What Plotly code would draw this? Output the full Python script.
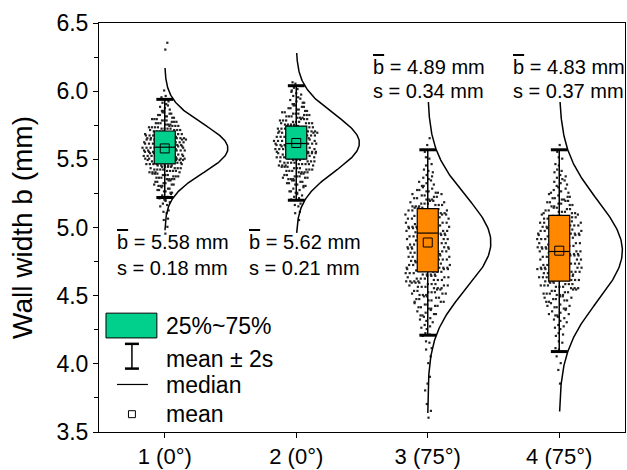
import numpy as np
import plotly.graph_objects as go

# ---------------- data ----------------
groups = [1, 2, 3, 4]
group_labels = ["1 (0°)", "2 (0°)", "3 (75°)", "4 (75°)"]
means = [5.58, 5.62, 4.89, 4.83]
sds = [0.18, 0.21, 0.34, 0.37]
q1 = [5.466, 5.502, 4.674, 4.606]
medians = [5.589, 5.616, 4.959, 4.824]
q3 = [5.708, 5.744, 5.138, 5.089]

# fitted-curve extents (as drawn)
curve_lo = [4.98, 4.96, 3.64, 3.65]
curve_hi = [6.17, 6.28, 5.92, 5.92]

# individual measurements, estimated as counts per 0.05 mm bin
bin_width = 0.05
g1_bin_start = 4.95
g1_counts = [1, 1, 2, 3, 5, 7, 9, 12, 16, 20, 24, 27, 28, 27, 25, 20, 15, 10, 6, 4, 2, 1,
             0, 0, 0, 0, 0, 1, 1]
g2_bin_start = 5.00
g2_counts = [0, 1, 2, 3, 5, 7, 10, 13, 16, 19, 21, 22, 23, 22, 20, 17, 14, 10, 7, 5, 3, 2]
g3_bin_start = 3.60
g3_counts = [1, 1, 1, 0, 1, 1, 1, 0, 1, 1, 2, 2, 3, 4, 5, 7, 9, 11, 13, 15, 16, 16, 16, 16,
             16, 16, 16, 16, 16, 16, 15, 13, 11, 8, 6, 4, 3, 2, 2, 1, 1, 1]
g4_bin_start = 3.85
g4_counts = [1, 0, 1, 1, 1, 2, 2, 3, 4, 5, 7, 8, 10, 12, 14, 15, 16, 16, 16, 16, 16, 16, 16,
             16, 14, 12, 10, 8, 6, 5, 4, 3, 2, 2, 1, 1]

bin_starts = [g1_bin_start, g2_bin_start, g3_bin_start, g4_bin_start]
bin_counts = [g1_counts, g2_counts, g3_counts, g4_counts]

GREEN = "rgb(0,208,140)"
ORANGE = "rgb(255,136,0)"
box_colors = [GREEN, GREEN, ORANGE, ORANGE]
FONT = "Arial, Liberation Sans, Arimo, sans-serif"
BOX_HALF = 0.08

fig = go.Figure()

# ---------------- scatter of measurements ----------------
for g, start, counts in zip(groups, bin_starts, bin_counts):
    cmax = max(counts)
    xs, ys = [], []
    for b, c in enumerate(counts):
        lo = start + b * bin_width
        w = 0.015 + 0.155 * (c / cmax)
        for k in range(c):
            ys.append(lo + 0.01 * (k % 5) + 0.005)
            frac = ((k + 1) * 0.6180339887 + b * 0.37) % 1.0
            xs.append(g + w * (2 * frac - 1))
    fig.add_trace(go.Scatter(x=xs, y=ys, mode="markers",
                             marker=dict(symbol="square", size=2.2, color="#222222"),
                             showlegend=False, hoverinfo="skip"))

# ---------------- whiskers: mean +/- 2s ----------------
fig.add_trace(go.Scatter(x=groups, y=means, mode="markers",
                         marker=dict(size=1, color="rgba(0,0,0,0)"),
                         error_y=dict(type="data", array=[2 * s for s in sds], symmetric=True,
                                      color="black", thickness=1.5, width=0),
                         showlegend=False, hoverinfo="skip"))
cap_y = [m + 2 * s for m, s in zip(means, sds)] + [m - 2 * s for m, s in zip(means, sds)]
fig.add_trace(go.Scatter(x=groups + groups, y=cap_y, mode="markers",
                         marker=dict(symbol="line-ew", size=12,
                                     line=dict(width=3, color="black")),
                         showlegend=False, hoverinfo="skip"))

# ---------------- boxes (25%-75%) with median line ----------------
for g, a, med, b, col in zip(groups, q1, medians, q3, box_colors):
    fig.add_trace(go.Scatter(
        x=[g - BOX_HALF, g + BOX_HALF, g + BOX_HALF, g - BOX_HALF, g - BOX_HALF],
        y=[a, a, b, b, a], mode="lines", fill="toself", fillcolor=col,
        line=dict(color="black", width=1.2), showlegend=False, hoverinfo="skip"))
    fig.add_trace(go.Scatter(x=[g - BOX_HALF, g + BOX_HALF], y=[med, med], mode="lines",
                             line=dict(color="black", width=1.2),
                             showlegend=False, hoverinfo="skip"))

# ---------------- mean markers ----------------
fig.add_trace(go.Scatter(x=groups, y=means, mode="markers",
                         marker=dict(symbol="square-open", size=9,
                                     line=dict(width=1, color="black"), color="black"),
                         showlegend=False, hoverinfo="skip"))

# ---------------- fitted normal curves ----------------
amp = 0.48
for g, m, s, lo, hi in zip(groups, means, sds, curve_lo, curve_hi):
    yy = np.linspace(lo, hi, 200)
    xx = g + amp * np.exp(-0.5 * ((yy - m) / s) ** 2)
    fig.add_trace(go.Scatter(x=xx, y=yy, mode="lines",
                             line=dict(color="black", width=1.5),
                             showlegend=False, hoverinfo="skip"))

# ---------------- statistics text ----------------
stat_pos = [(0.030, 0.465, 0.402), (0.281, 0.465, 0.402),
            (0.518, 0.8935, 0.833), (0.784, 0.8935, 0.833)]
for (px, py1, py2), m, s in zip(stat_pos, means, sds):
    fig.add_annotation(xref="paper", yref="paper", x=px, y=py1, xanchor="left", yanchor="middle",
                       text='<span style="text-decoration:overline">b</span> = %.2f mm' % m,
                       showarrow=False, font=dict(size=20, color="black", family=FONT))
    fig.add_annotation(xref="paper", yref="paper", x=px, y=py2, xanchor="left", yanchor="middle",
                       text="s = %.2f mm" % s,
                       showarrow=False, font=dict(size=20, color="black", family=FONT))

# ---------------- custom legend ----------------
fig.add_shape(type="rect", xref="paper", yref="paper", x0=0.0133, x1=0.110, y0=0.230, y1=0.2906,
              fillcolor=GREEN, line=dict(color="black", width=1))
fig.add_shape(type="line", xref="paper", yref="paper", x0=0.0626, x1=0.0626, y0=0.155, y1=0.2155,
              line=dict(color="black", width=1.5))
for yy in (0.155, 0.2155):
    fig.add_shape(type="line", xref="paper", yref="paper", x0=0.0493, x1=0.0759, y0=yy, y1=yy,
                  line=dict(color="black", width=2.5))
fig.add_shape(type="line", xref="paper", yref="paper", x0=0.0342, x1=0.093, y0=0.1162, y1=0.1162,
              line=dict(color="black", width=1.2))
fig.add_shape(type="rect", xref="paper", yref="paper", x0=0.0560, x1=0.0692, y0=0.0351, y1=0.0521,
              line=dict(color="black", width=1))
for txt, yy in [("25%~75%", 0.259), ("mean ± 2s", 0.179), ("median", 0.116), ("mean", 0.0436)]:
    fig.add_annotation(xref="paper", yref="paper", x=0.1233, y=yy, xanchor="left", yanchor="middle",
                       text=txt, showarrow=False, font=dict(size=23, color="black", family=FONT))

# ---------------- layout ----------------
fig.update_layout(
    width=627, height=470,
    margin=dict(l=99, r=1, t=23, b=34),
    paper_bgcolor="white", plot_bgcolor="white",
    font=dict(family=FONT, color="black"),
    showlegend=False,
    xaxis=dict(range=[0.5, 4.5], tickmode="array", tickvals=groups, ticktext=group_labels,
               ticks="outside", ticklen=5, tickcolor="black", showline=True, linecolor="black",
               linewidth=1, mirror=True, showgrid=False, zeroline=False,
               tickfont=dict(size=22, family=FONT)),
    yaxis=dict(range=[3.5, 6.5], tickmode="array", tickvals=[3.5, 4.0, 4.5, 5.0, 5.5, 6.0, 6.5],
               ticktext=["3.5", "4.0", "4.5", "5.0", "5.5", "6.0", "6.5"],
               ticks="outside", ticklen=5, tickcolor="black", showline=True, linecolor="black",
               linewidth=1, mirror=True, showgrid=False, zeroline=False,
               minor=dict(tickvals=[3.75, 4.25, 4.75, 5.25, 5.75, 6.25], ticks="outside",
                          ticklen=4, tickcolor="black"),
               tickfont=dict(size=23, family=FONT),
               title=dict(text="Wall width b (mm)", font=dict(size=28, family=FONT), standoff=15)),
)

fig.write_html("out.html")
